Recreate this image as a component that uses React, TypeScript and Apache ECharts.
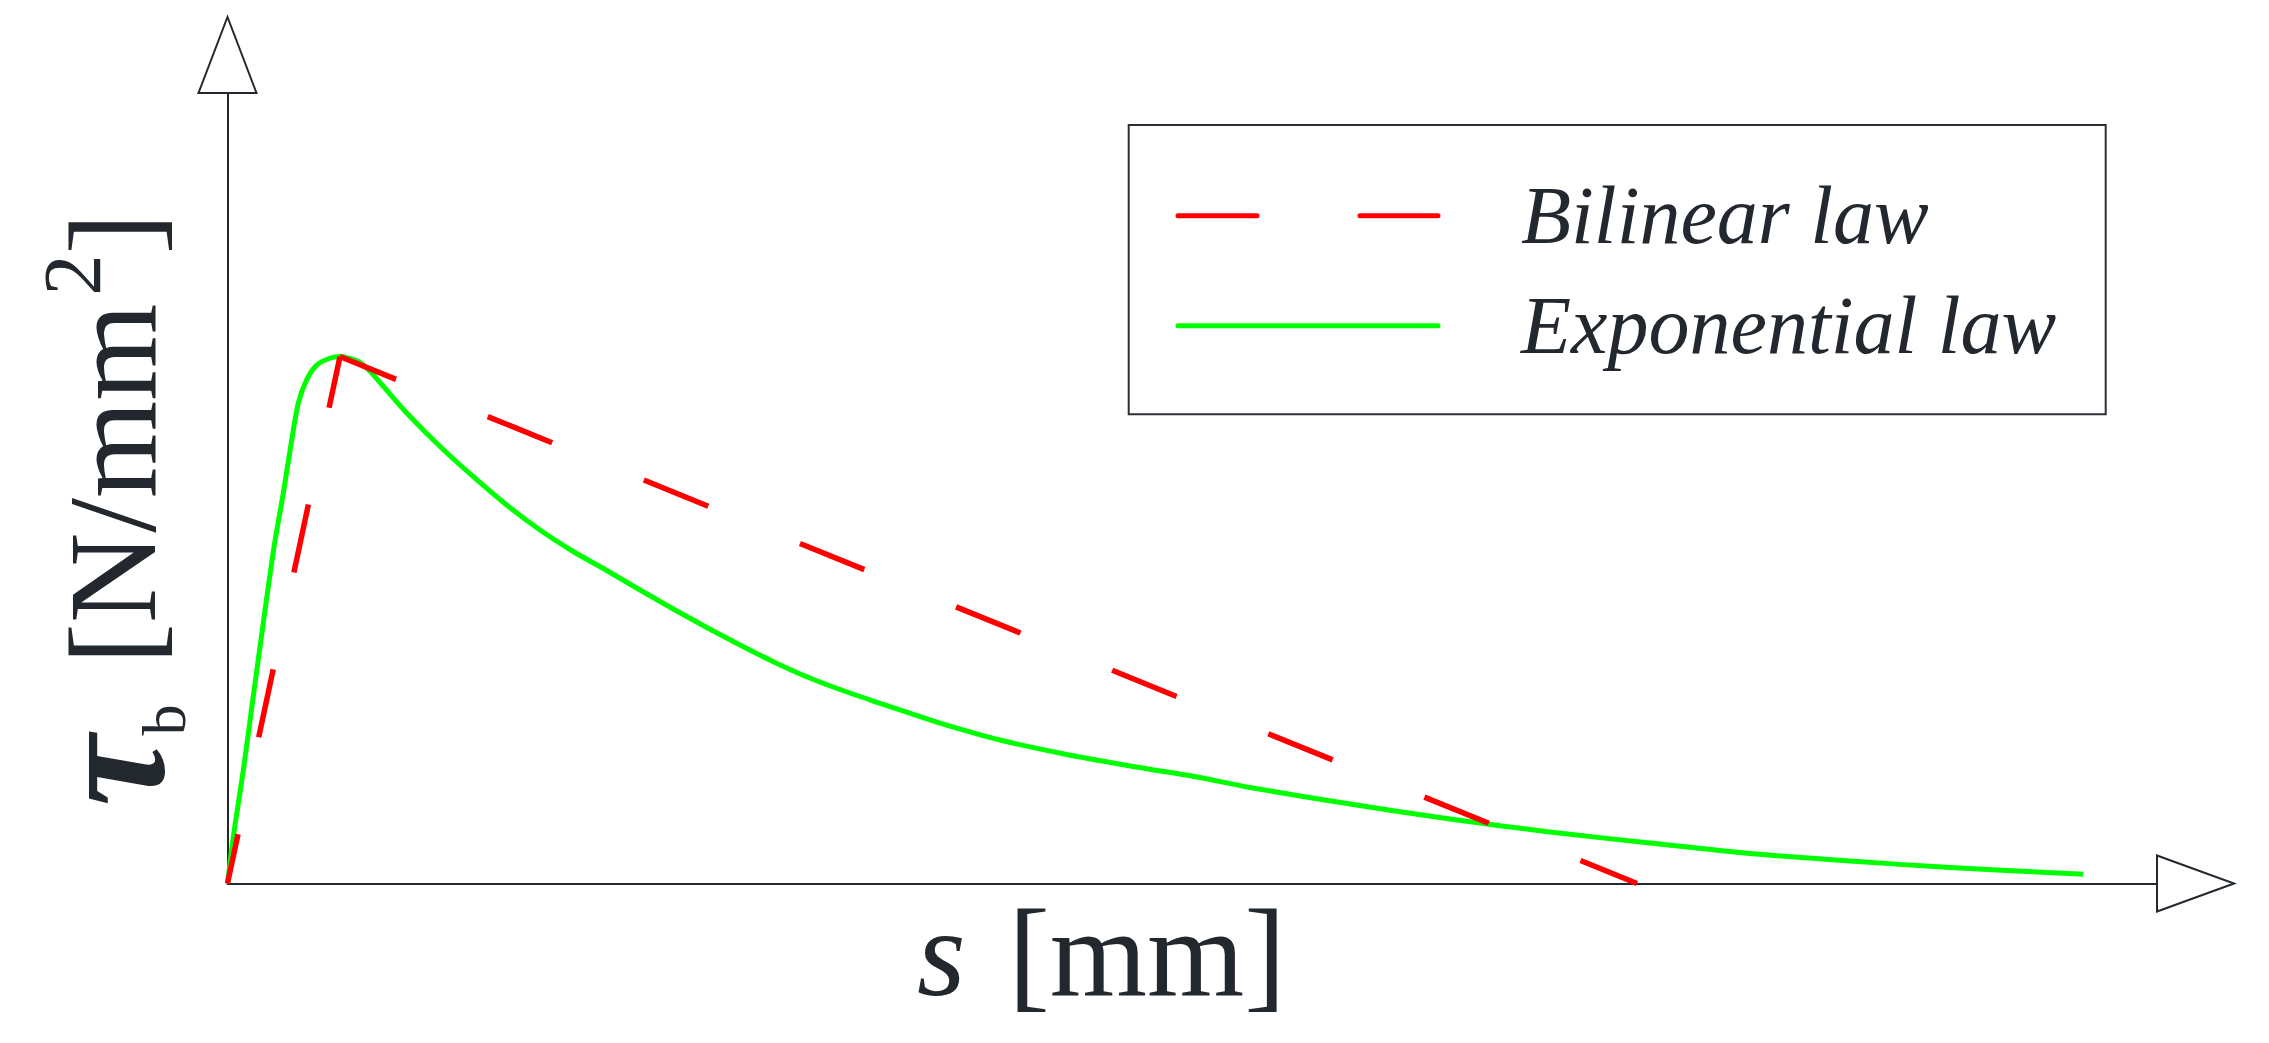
import React, { useEffect, useRef } from 'react';
import * as echarts from 'echarts';

// ---- data (s in mm, tau in N/mm^2, arbitrary units) ----
const sBilinear = [0, 0.1143, 1.4324];
const tauBilinear = [0, 0.954, 0];

const sExponential = [
  0, 0.006, 0.016, 0.026, 0.036, 0.047, 0.057, 0.065, 0.072, 0.081, 0.091, 0.104,
  0.1143, 0.1245, 0.1347, 0.1465, 0.1651, 0.1821, 0.216, 0.2498, 0.2837,
  0.3176, 0.3514, 0.3854, 0.4192, 0.453, 0.487, 0.5208, 0.5547, 0.5886, 0.6225,
  0.6563, 0.6902, 0.7241, 0.7851, 0.8528, 0.9205, 0.9883, 1.0391, 1.1407,
  1.2424, 1.344, 1.4456, 1.5473, 1.6489, 1.7505, 1.886,
];
const tauExponential = [
  0, 0.086, 0.204, 0.336, 0.467, 0.606, 0.71, 0.8, 0.87, 0.914, 0.939, 0.951,
  0.9541, 0.9505, 0.9433, 0.9243, 0.8862, 0.8518, 0.7912, 0.7365, 0.6853,
  0.64, 0.6011, 0.5667, 0.5314, 0.497, 0.4635, 0.4318, 0.4016, 0.3744, 0.3512,
  0.3304, 0.3105, 0.2905, 0.2598, 0.2336, 0.2118, 0.1919, 0.1738, 0.1439,
  0.1168, 0.0932, 0.0733, 0.0543, 0.0407, 0.029, 0.0167,
];

const seriesNames = ['Bilinear law', 'Exponential law'];
const xAxisSymbol = 's';
const xAxisUnit = '[mm]';
const yAxisName = '{t|τ}{b|b}{m|[N/mm}{s|2}{m|]}';

const INK = '#23282f';
const RED = '#ff0000';
const GREEN = '#00ff00';
const SERIF = 'Liberation Serif';

export default function App() {
  const ref = useRef<HTMLDivElement>(null);

  useEffect(() => {
    const chart = echarts.init(ref.current as HTMLDivElement, null, { renderer: 'svg' });

    const rise = [
      [sBilinear[0], tauBilinear[0]],
      [sBilinear[1], tauBilinear[1]],
    ];
    const fall = [
      [sBilinear[1], tauBilinear[1]],
      [sBilinear[2], tauBilinear[2]],
    ];
    const expData = sExponential.map((s, i) => [s, tauExponential[i]]);

    chart.setOption({
      animation: false,
      backgroundColor: '#ffffff',
      title: [
        {
          text: xAxisSymbol,
          left: 917,
          top: 890.3,
          padding: 0,
          itemGap: 0,
          textStyle: {
            fontFamily: SERIF,
            fontStyle: 'italic',
            fontWeight: 'normal',
            fontSize: 125,
            lineHeight: 125,
            color: INK,
          },
        },
      ],
      grid: {
        left: 227.5,
        top: 55,
        width: 1968,
        height: 828.5,
        outerBoundsMode: 'none',
        containLabel: false,
      },
      xAxis: {
        type: 'value',
        min: 0,
        max: 2,
        name: xAxisUnit,
        nameLocation: 'middle',
        nameGap: 6.8,
        nameTextStyle: {
          fontFamily: SERIF,
          fontSize: 125,
          lineHeight: 125,
          color: INK,
          padding: [0, 129, 0, 0],
        },
        axisLine: {
          show: true,
          onZero: true,
          symbol: ['none', 'emptyTriangle'],
          symbolSize: [56, 77],
          lineStyle: { color: INK, width: 2 },
        },
        axisTick: { show: false },
        axisLabel: { show: false },
        splitLine: { show: false },
      },
      yAxis: {
        type: 'value',
        min: 0,
        max: 1.5,
        name: yAxisName,
        nameLocation: 'middle',
        nameRotate: 90,
        nameGap: 29.7,
        nameTextStyle: {
          fontFamily: SERIF,
          fontSize: 125,
          lineHeight: 170,
          color: INK,
          padding: [0, 81, 0, 0],
          rich: {
            t: {
              fontFamily: SERIF,
              fontSize: 160,
              fontStyle: 'italic',
              fontWeight: 'bold',
              lineHeight: 170,
              verticalAlign: 'middle',
              color: INK,
              padding: [0, 0, 8, 0],
            },
            b: {
              fontFamily: SERIF,
              fontSize: 62,
              lineHeight: 170,
              verticalAlign: 'middle',
              color: INK,
              padding: [103, 40, 0, 0],
            },
            m: {
              fontFamily: SERIF,
              fontSize: 125,
              lineHeight: 170,
              verticalAlign: 'middle',
              color: INK,
            },
            s: {
              fontFamily: SERIF,
              fontSize: 82,
              lineHeight: 170,
              verticalAlign: 'middle',
              color: INK,
              padding: [0, 0, 81, 8],
            },
          },
        },
        axisLine: {
          show: true,
          onZero: true,
          symbol: ['none', 'emptyTriangle'],
          symbolSize: [58, 76],
          lineStyle: { color: INK, width: 2 },
        },
        axisTick: { show: false },
        axisLabel: { show: false },
        splitLine: { show: false },
      },
      legend: {
        orient: 'vertical',
        left: 1175.5,
        top: 160.7,
        padding: 0,
        itemGap: 0,
        itemWidth: 260,
        itemHeight: 10,
        selectedMode: false,
        itemStyle: { opacity: 0, color: 'transparent', borderWidth: 0 },
        textStyle: {
          fontFamily: SERIF,
          fontStyle: 'italic',
          fontSize: 82,
          lineHeight: 110,
          color: INK,
          padding: [0, 0, 0, 78],
        },
        data: [
          {
            name: seriesNames[0],
            itemStyle: { opacity: 0, color: 'transparent', borderWidth: 0 },
            lineStyle: { color: RED, width: 5, type: [79, 103], dashOffset: 0, cap: 'round' },
          },
          {
            name: seriesNames[1],
            itemStyle: { opacity: 0, color: 'transparent', borderWidth: 0 },
            lineStyle: { color: GREEN, width: 5, type: 'solid', cap: 'round' },
          },
        ],
      },
      series: [
        {
          type: 'line',
          name: seriesNames[1],
          data: expData,
          symbol: 'none',
          showSymbol: false,
          smooth: 0.25,
          itemStyle: { color: GREEN },
          lineStyle: { color: GREEN, width: 5, join: 'round' },
          z: 2,
        },
        {
          type: 'line',
          name: seriesNames[0],
          data: rise,
          symbol: 'none',
          showSymbol: false,
          itemStyle: { color: RED },
          lineStyle: { color: RED, width: 5.5, type: [69.5, 99], dashOffset: 18.5 },
          z: 3,
        },
        {
          type: 'line',
          name: seriesNames[0],
          data: fall,
          symbol: 'none',
          showSymbol: false,
          itemStyle: { color: RED },
          lineStyle: { color: RED, width: 5.5, type: [69.5, 99], dashOffset: 9 },
          z: 3,
        },
      ],
      graphic: [
        {
          type: 'rect',
          z: 0,
          shape: { x: 1128.7, y: 125, width: 977, height: 289.3 },
          style: { fill: 'none', stroke: '#2b2f36', lineWidth: 2 },
        },
      ],
    });

    return () => {
      chart.dispose();
    };
  }, []);

  return (
    <div
      ref={ref}
      style={{ position: 'absolute', left: 0, top: 0, width: 2269, height: 1043 }}
    />
  );
}
